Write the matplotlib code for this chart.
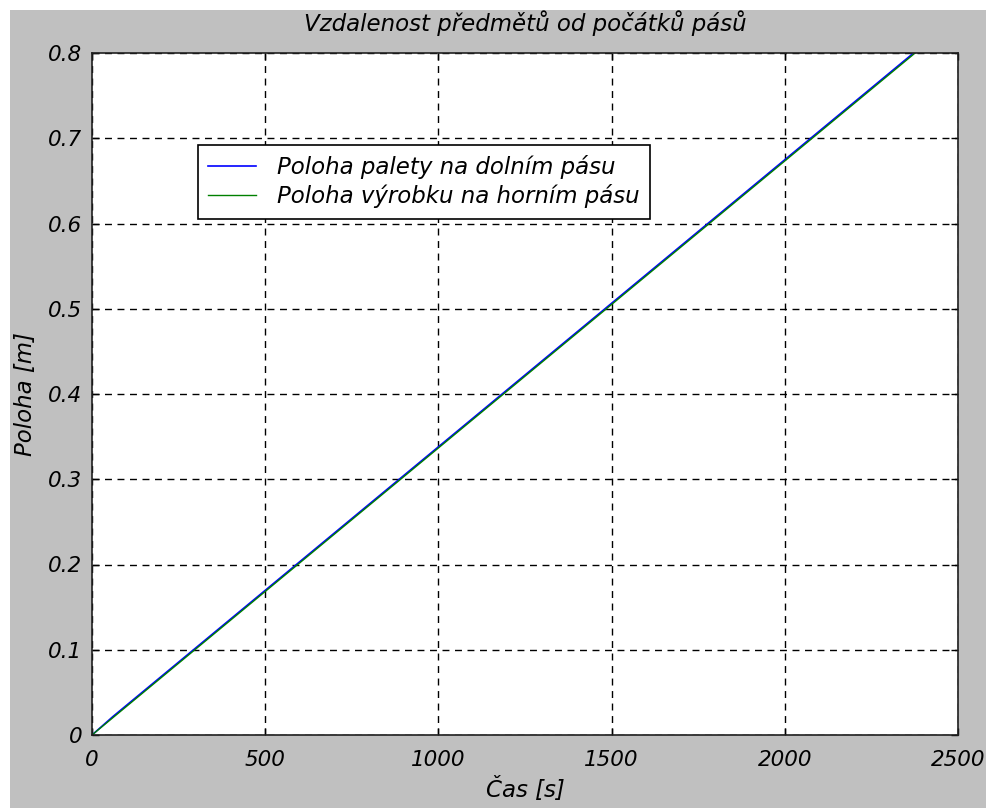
import matplotlib.pyplot as plt
from matplotlib.patches import Rectangle

# data
t_paleta = [0, 60, 2400]
x_paleta = [0, 0.0215, 0.8095]
t_vyrobek = [0, 2400]
x_vyrobek = [0, 0.808]

xticks = [0, 500, 1000, 1500, 2000, 2500]
yticks = [0, 0.1, 0.2, 0.3, 0.4, 0.5, 0.6, 0.7, 0.8]
ytick_labels = ['0', '0.1', '0.2', '0.3', '0.4', '0.5', '0.6', '0.7', '0.8']

plt.rcParams['font.family'] = ['DejaVu Sans']
plt.rcParams['font.style'] = 'italic'
FS = 15.5
FS_TXT = 16.5

W, H = 986, 808
fig = plt.figure(figsize=(W / 100, H / 100), dpi=100, facecolor='white')
fig.patches.append(Rectangle((10 / W, 0), 1 - 10 / W, 1 - 10 / H,
                             transform=fig.transFigure, facecolor='#c0c0c0',
                             edgecolor='none', zorder=-1))

left, right, top, bottom = 92, 958, 53, 735
ax = fig.add_axes([left / W, 1 - bottom / H, (right - left) / W, (bottom - top) / H])
ax.set_facecolor('white')

ax.plot(t_paleta, x_paleta, color='#0000ff', lw=1.2, label='Poloha palety na dolním pásu')
ax.plot(t_vyrobek, x_vyrobek, color='#008000', lw=1.0, label='Poloha výrobku na horním pásu')

ax.set_xlim(0, 2500)
ax.set_ylim(0, 0.8)
ax.set_xticks(xticks)
ax.set_xticklabels([str(v) for v in xticks])
ax.set_yticks(yticks)
ax.set_yticklabels(ytick_labels)
ax.tick_params(direction='in', length=5, width=1, labelsize=FS, colors='black',
               top=True, right=True)
ax.tick_params(axis='x', pad=11)
ax.tick_params(axis='y', pad=7)
ax.grid(True, color='black', linestyle=(0, (5, 4)), linewidth=1)
for s in ax.spines.values():
    s.set_linewidth(1.2)
    s.set_color('#202020')

ax.set_title('Vzdalenost předmětů od počátků pásů', fontsize=FS_TXT, pad=16)
ax.set_xlabel('Čas [s]', fontsize=FS_TXT, labelpad=5)
ax.set_ylabel('Poloha [m]', fontsize=FS_TXT, labelpad=8)

leg = ax.legend(loc='upper left', bbox_to_anchor=((198 - left) / (right - left), 1 - (145 - top) / (bottom - top)),
                fontsize=FS_TXT, frameon=True, fancybox=False, framealpha=1,
                edgecolor='black', borderpad=0.45, handlelength=2.1, handletextpad=0.9,
                labelspacing=0.22, borderaxespad=0)
leg.get_frame().set_linewidth(1.2)

fig.savefig('out.png', dpi=100, facecolor=fig.get_facecolor())
